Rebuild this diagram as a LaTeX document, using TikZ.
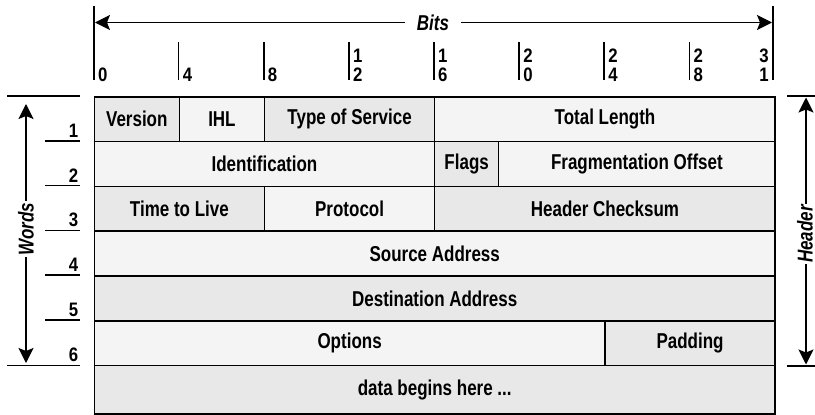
\documentclass[tikz,border=0pt]{standalone}
\usepackage{fontspec}
\setmainfont{Liberation Sans}[FakeStretch=0.79]
\newfontfamily\digfont{Liberation Sans}[FakeStretch=0.86]
\usetikzlibrary{arrows.meta}
\definecolor{cdark}{RGB}{232,232,232}
\definecolor{clight}{RGB}{244,244,244}
\newcommand\fsz{\bfseries\fontsize{21.5}{25}\selectfont}
\newcommand\dsz{\digfont\bfseries\fontsize{19.5}{23}\selectfont}
\newcommand\ipfield[6]{\node[fld, fill=#5, anchor=north west, minimum width={(#3-#2)*21.28pt}] (#1) at ({93.5+#2*21.28},{96+(#4-1)*44.8}) {#6};}
\tikzset{
  fld/.style={draw, line width=1.5pt, inner sep=0pt, minimum height=44.8pt, font=\fsz},
  rule/.style={line width=1.6pt},
  dblarrow/.style={line width=1.4pt, {Stealth[length=15pt,width=15pt,inset=3pt]}-{Stealth[length=15pt,width=15pt,inset=3pt]}},
  lab/.style={font=\fsz\itshape, fill=white, inner sep=2pt},
  dig/.style={font=\dsz, inner sep=0pt}
}
\begin{document}
\begin{tikzpicture}[x=1pt,y=-1pt]
\useasboundingbox (0,0) rectangle (815,415);
% fields
\ipfield{ver}{0}{4}{1}{cdark}{Version}
\ipfield{ihl}{4}{8}{1}{clight}{IHL}
\ipfield{tos}{8}{16}{1}{cdark}{Type of Service}
\ipfield{tlen}{16}{32}{1}{clight}{Total Length}
\ipfield{ident}{0}{16}{2}{clight}{Identification}
\ipfield{flags}{16}{19}{2}{cdark}{Flags}
\ipfield{frag}{19}{32}{2}{clight}{Fragmentation Offset}
\ipfield{ttl}{0}{8}{3}{cdark}{Time to Live}
\ipfield{proto}{8}{16}{3}{clight}{Protocol}
\ipfield{chk}{16}{32}{3}{cdark}{Header Checksum}
\ipfield{src}{0}{32}{4}{clight}{Source Address}
\ipfield{dst}{0}{32}{5}{cdark}{Destination Address}
\ipfield{opt}{0}{24}{6}{clight}{Options}
\ipfield{pad}{24}{32}{6}{cdark}{Padding}
\node[fld, fill=cdark, anchor=north west, minimum width=680.96pt, minimum height=48.6pt] (data) at (93.5,364.8) {data begins here ...};
% bit scale
\draw[rule] (94,6) -- (94,80);
\draw[rule] (773,6) -- (773,80);
\node[dig, anchor=base west] (t0) at (98,81) {0};
\foreach \b in {4,8} {
  \draw[rule] ({93.5+\b*21.28},42) -- ({93.5+\b*21.28},80);
  \node[dig, anchor=base west] (t\b) at ({97.5+\b*21.28},81) {\b};
}
\foreach \b/\p/\q in {12/1/2,16/1/6,20/2/0,24/2/4,28/2/8} {
  \draw[rule] ({93.5+\b*21.28},42) -- ({93.5+\b*21.28},80);
  \node[dig, anchor=base west] (tu\b) at ({97.5+\b*21.28},62) {\p};
  \node[dig, anchor=base west] (tl\b) at ({97.5+\b*21.28},81) {\q};
}
\node[dig, anchor=base east] (tu31) at (769,62) {3};
\node[dig, anchor=base east] (tl31) at (769,81) {1};
\coordinate (bl) at (95,22.5);
\coordinate (br) at (772,22.5);
\draw[dblarrow] (bl) -- (br);
\node[lab, inner xsep=12pt] (bits) at (433,22.5) {Bits};
% words
\draw[rule] (7,96) -- (80,96);
\draw[rule] (7,365.5) -- (80,365.5);
\foreach \y in {140.8,185.6,230.4,275.2,320} {
  \draw[rule] (45,\y) -- (80,\y);
}
\foreach \n/\y in {1/140.8,2/185.6,3/230.4,4/275.2,5/320,6/364.8} {
  \node[dig, anchor=base east] (w\n) at (78.5,{\y-3.5}) {\n};
}
\coordinate (wt) at (26,104);
\coordinate (wb) at (26,363);
\draw[dblarrow] (wt) -- (wb);
\node[lab, rotate=90] (words) at (26,229) {Words};
% header
\draw[rule] (787,96) -- (815,96);
\draw[rule] (787,366) -- (815,366);
\coordinate (ht) at (806,97.5);
\coordinate (hb) at (806,364.5);
\draw[dblarrow] (ht) -- (hb);
\node[lab, rotate=90, inner sep=1pt] (header) at (805,234) {Header};
\end{tikzpicture}
\end{document}
